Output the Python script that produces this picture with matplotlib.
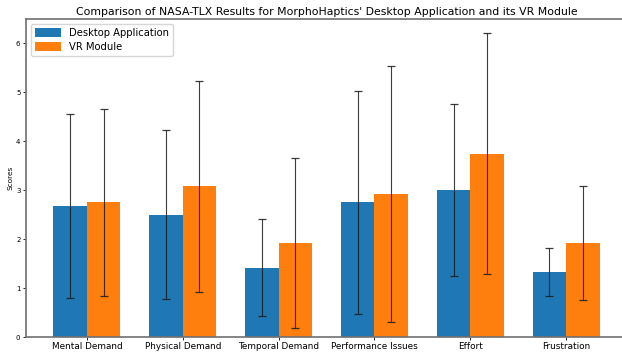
import matplotlib
matplotlib.use("Agg")
import matplotlib.pyplot as plt
import numpy as np

categories = ["Mental Demand", "Physical Demand", "Temporal Demand",
              "Performance Issues", "Effort", "Frustration"]
desktop_means = [2.67, 2.50, 1.42, 2.75, 3.00, 1.33]
desktop_stds = [1.88, 1.73, 1.00, 2.27, 1.76, 0.49]
vr_means = [2.75, 3.08, 1.92, 2.92, 3.75, 1.92]
vr_stds = [1.92, 2.15, 1.73, 2.61, 2.46, 1.17]
series_labels = ["Desktop Application", "VR Module"]
title = "Comparison of NASA-TLX Results for MorphoHaptics' Desktop Application and its VR Module"

W, H = 622, 354
fig = plt.figure(figsize=(W / 100, H / 100), dpi=100)
ax = fig.add_axes([26 / W, 1 - 337 / H, (627 - 26) / W, (337 - 19) / H])

x = np.arange(len(categories))
width = 0.35
ekw = dict(ecolor="#1a1a1a", elinewidth=0.8, capsize=3, capthick=0.9, alpha=0.85)
ax.bar(x - width / 2, desktop_means, width, yerr=desktop_stds, label=series_labels[0],
       color="#1f77b4", error_kw=ekw)
ax.bar(x + width / 2, vr_means, width, yerr=vr_stds, label=series_labels[1],
       color="#ff7f0e", error_kw=ekw)

ax.set_xticks(x)
ax.set_xticklabels(categories, fontsize=6.4)
ax.tick_params(axis="y", labelsize=5, length=2, width=0.6, pad=2)
ax.tick_params(axis="x", length=2, width=0.6, pad=1.5)
ax.set_ylabel("Scores", fontsize=5.3, labelpad=2)
ax.set_title(title, fontsize=7.8, pad=3)
ax.set_ylim(0, 6.5)
ax.set_xlim(-0.635, 5.635)
for s in ax.spines.values():
    s.set_color("#707070")
    s.set_linewidth(1.2)
ax.spines["right"].set_visible(False)

leg = ax.legend(loc="upper left", fontsize=7.2, handlelength=2.6, handleheight=0.9,
                borderpad=0.4, labelspacing=0.4, handletextpad=0.8, borderaxespad=0.5,
                fancybox=True, framealpha=0.8)

fig.savefig("out.png", dpi=100)
